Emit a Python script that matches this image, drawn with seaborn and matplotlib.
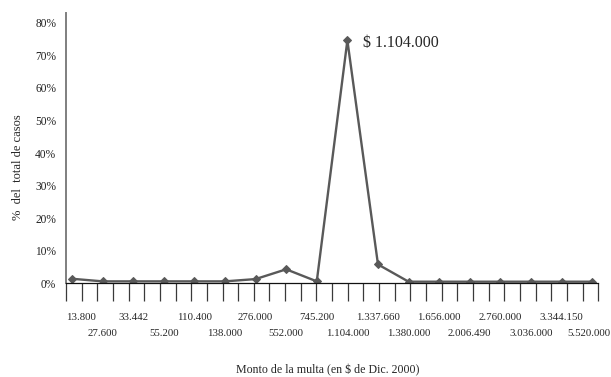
import matplotlib
matplotlib.use("Agg")
import matplotlib.pyplot as plt
import matplotlib.transforms as mtransforms
from matplotlib.ticker import PercentFormatter
import numpy as np
import pandas as pd
import seaborn as sns

# Monto de la multa (categories) and share of cases
montos = [
    "13.800", "27.600", "33.442", "55.200", "110.400", "138.000",
    "276.000", "552.000", "745.200", "1.104.000", "1.337.660", "1.380.000",
    "1.656.000", "2.006.490", "2.760.000", "3.036.000", "3.344.150", "5.520.000",
]
porcentaje = [
    0.014, 0.006, 0.006, 0.006, 0.006, 0.006,
    0.013, 0.043, 0.006, 0.746, 0.058, 0.005,
    0.005, 0.005, 0.005, 0.005, 0.005, 0.005,
]
y_ticks = [0.0, 0.1, 0.2, 0.3, 0.4, 0.5, 0.6, 0.7, 0.8]
pico_label = r"\$ 1.104.000"

df = pd.DataFrame({"pos": np.arange(len(montos)), "pct": porcentaje, "monto": montos})

sns.set_style("white")
plt.rcParams["font.family"] = ["Liberation Serif", "DejaVu Serif"]

fig = plt.figure(figsize=(6.11, 3.77), dpi=100)
ax = fig.add_axes([0.108, 0.2485, 0.871, 0.717])

line_color = "#595959"
sns.lineplot(
    data=df, x="pos", y="pct", ax=ax,
    color=line_color, linewidth=1.7,
    marker="D", markersize=4.5, markeredgecolor=line_color,
)

xmin, xmax = -0.196, 17.196
ax.set_xlim(xmin, xmax)
ax.set_ylim(0, 0.83)

# y axis
ax.set_yticks(y_ticks)
ax.yaxis.set_major_formatter(PercentFormatter(1.0, decimals=0))
ax.tick_params(axis="y", length=0, pad=7, labelsize=8.3, colors="#222222")

# x axis: tick lines at regular intervals, labels in two staggered rows
ax.set_xticks([])
ax.set_xticks(np.linspace(xmin, xmax, 35), minor=True)
ax.tick_params(axis="x", which="minor", bottom=True, direction="out", length=13.2,
               width=0.9, color="#3a3a3a")
trans = mtransforms.blended_transform_factory(ax.transData, ax.transAxes)
last = len(montos) - 1
for i, m in enumerate(montos):
    yy = -0.128 if i % 2 == 0 else -0.184
    if i == 0:
        ax.text(xmin, yy, m, transform=trans, ha="left", va="center", fontsize=7.8)
    elif i == last:
        ax.text(xmax + 0.39, yy, m, transform=trans, ha="right", va="center", fontsize=7.8)
    else:
        ax.text(i, yy, m, transform=trans, ha="center", va="center", fontsize=7.8)

for s in ["top", "right"]:
    ax.spines[s].set_visible(False)
ax.spines["left"].set_color("#7f7f7f")
ax.spines["left"].set_linewidth(1.4)
ax.spines["bottom"].set_color("#111111")
ax.spines["bottom"].set_linewidth(0.9)

ax.set_xlabel("")
ax.set_ylabel("")
fig.text(328 / 611, 1 - 370 / 377, r"Monto de la multa (en \$ de Dic. 2000)",
         ha="center", va="center", fontsize=8.6)
fig.text(18 / 611, 1 - 167 / 377, "%  del  total de casos", rotation=90,
         ha="center", va="center", fontsize=9)

# peak annotation
peak = int(np.argmax(porcentaje))
ax.annotate(pico_label, xy=(peak, porcentaje[peak]), xytext=(11.5, -2),
            textcoords="offset points", ha="left", va="center", fontsize=11.5)

fig.savefig("out.png", dpi=100)
